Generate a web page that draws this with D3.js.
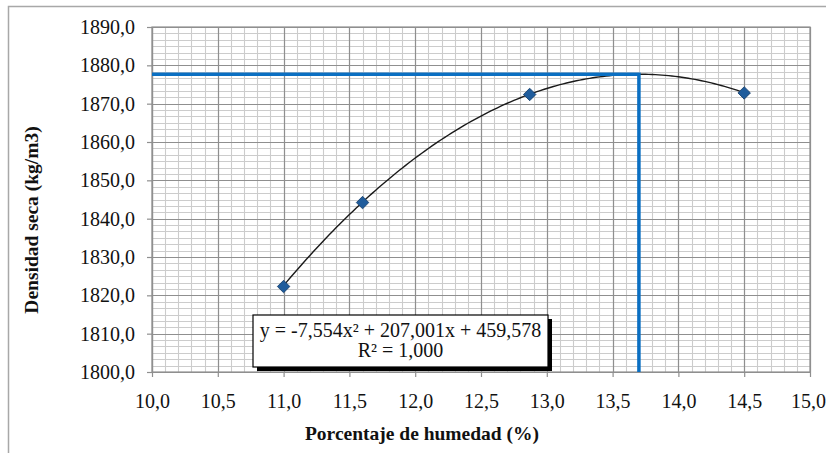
<!DOCTYPE html>
<html>
<head>
<meta charset="utf-8">
<script src="https://cdn.jsdelivr.net/npm/d3@7"></script>
<style>
  body { margin: 0; background: #fff; }
  svg { display: block; }
  text { font-family: "Liberation Serif", "Times New Roman", serif; fill: #111; }
</style>
</head>
<body>
<div id="chart"></div>
<script>
// values
const moisture = [11.0, 11.6, 12.87, 14.5];
const dryDensity = [1822.3, 1844.2, 1872.4, 1872.8];
// polynomial trendline y = a x^2 + b x + c, as printed on the chart
const trendCoef = [-7.554, 207.001, 459.578];
const optimum = { x: 13.70, y: 1877.7 };
const xTicks = [10, 10.5, 11, 11.5, 12, 12.5, 13, 13.5, 14, 14.5, 15];
const yTicks = [1800, 1810, 1820, 1830, 1840, 1850, 1860, 1870, 1880, 1890];
const eqLines = ["y = -7,554x² + 207,001x + 459,578", "R² = 1,000"];

const W = 826, H = 453;
const margin = { top: 27, right: 16, bottom: 81, left: 152 };
const width = W - margin.left - margin.right;
const height = H - margin.top - margin.bottom;

const es = d3.formatLocale({ decimal: ",", thousands: ".", grouping: [3], currency: ["", "€"] });
const fmt = es.format(".1f");

const root = d3.select('#chart').append('svg')
  .attr('width', W)
  .attr('height', H);

// outer chart frame (cropped: only left and top visible)
root.append('path')
  .attr('d', `M8.5,${H} V6.5 H${W}`)
  .attr('fill', 'none')
  .attr('stroke', '#a8a8a8')
  .attr('stroke-width', 1.5);

const svg = root.append('g')
  .attr('transform', `translate(${margin.left}, ${margin.top})`);

const x = d3.scaleLinear().domain([10, 15]).range([0, width]);
const y = d3.scaleLinear().domain([1800, 1890]).range([height, 0]);

// minor grid
const xMinor = d3.range(0, 51).map(i => 10 + i * 0.1);
const yMinor = d3.range(0, 55).map(i => 1800 + i * 10 / 6);
const grid = svg.append('g').attr('class', 'grid');
grid.selectAll('.vminor').data(xMinor).join('line')
  .attr('x1', d => Math.round(x(d)) + 0.5).attr('x2', d => Math.round(x(d)) + 0.5)
  .attr('y1', 0).attr('y2', height)
  .attr('stroke', '#cccccc').attr('stroke-width', 1.1);
grid.selectAll('.hminor').data(yMinor).join('line')
  .attr('y1', d => Math.round(y(d)) + 0.5).attr('y2', d => Math.round(y(d)) + 0.5)
  .attr('x1', 0).attr('x2', width)
  .attr('stroke', '#cccccc').attr('stroke-width', 1.1);
// major grid
grid.selectAll('.vmajor').data(xTicks).join('line')
  .attr('x1', d => Math.round(x(d)) + 0.5).attr('x2', d => Math.round(x(d)) + 0.5)
  .attr('y1', 0).attr('y2', height)
  .attr('stroke', '#8f8f8f').attr('stroke-width', 1.2);
grid.selectAll('.hmajor').data(yTicks).join('line')
  .attr('y1', d => Math.round(y(d)) + 0.5).attr('y2', d => Math.round(y(d)) + 0.5)
  .attr('x1', 0).attr('x2', width)
  .attr('stroke', '#8f8f8f').attr('stroke-width', 1.2);

// axes
const xAxis = svg.append('g')
  .attr('transform', `translate(0, ${height})`)
  .call(d3.axisBottom(x).tickValues(xTicks).tickFormat(fmt).tickSizeOuter(0).tickSizeInner(5).tickPadding(17));
const yAxis = svg.append('g')
  .call(d3.axisLeft(y).tickValues(yTicks).tickFormat(fmt).tickSizeOuter(0).tickSizeInner(5).tickPadding(12));
[xAxis, yAxis].forEach(a => {
  a.select('.domain').attr('stroke', '#8f8f8f').attr('stroke-width', 1.2);
  a.selectAll('.tick line').attr('stroke', '#8f8f8f').attr('stroke-width', 1.2);
  a.selectAll('.tick text')
    .attr('font-family', '"Liberation Serif", serif')
    .attr('font-size', '20px')
    .attr('fill', '#111');
});
// last x label sits at the window edge: pull it in a little
xAxis.selectAll('.tick text').filter(d => d === 15).attr('dx', -2);
svg.append('rect')
  .attr('width', width).attr('height', height)
  .attr('fill', 'none').attr('stroke', '#8f8f8f').attr('stroke-width', 1.2);

// trendline from the printed equation, over the data range
const [a, b, c] = trendCoef;
const trend = d3.range(0, 141).map(i => {
  const xv = moisture[0] + i * (moisture[moisture.length - 1] - moisture[0]) / 140;
  return [xv, a * xv * xv + b * xv + c];
});
svg.append('path')
  .datum(trend)
  .attr('fill', 'none')
  .attr('stroke', '#1a1a1a')
  .attr('stroke-width', 1.4)
  .attr('d', d3.line().x(d => x(d[0])).y(d => y(d[1])));

// optimum guide line
svg.append('path')
  .attr('d', `M${x(10)},${y(optimum.y)} H${x(optimum.x)} V${y(1800)}`)
  .attr('fill', 'none')
  .attr('stroke', '#0a6fc2')
  .attr('stroke-width', 3.5);

// data markers
svg.selectAll('.pt')
  .data(moisture.map((m, i) => [m, dryDensity[i]]))
  .join('path')
  .attr('class', 'pt')
  .attr('transform', d => `translate(${x(d[0])}, ${y(d[1])}) rotate(45)`)
  .attr('d', d3.symbol(d3.symbolSquare, 78))
  .attr('fill', '#1f5c9c')
  .attr('stroke', '#173f6a')
  .attr('stroke-width', 0.8);

// equation label
const box = { x: 253 - margin.left, y: 315 - margin.top, w: 295, h: 52 };
svg.append('rect')
  .attr('x', box.x + 4).attr('y', box.y + 4)
  .attr('width', box.w).attr('height', box.h)
  .attr('fill', '#000');
svg.append('rect')
  .attr('x', box.x).attr('y', box.y)
  .attr('width', box.w).attr('height', box.h)
  .attr('fill', '#fff').attr('stroke', '#000').attr('stroke-width', 1.2);
svg.selectAll('.eq')
  .data(eqLines)
  .join('text')
  .attr('class', 'eq')
  .attr('x', box.x + box.w / 2)
  .attr('y', (d, i) => box.y + 22 + i * 20)
  .attr('text-anchor', 'middle')
  .attr('font-size', '20px')
  .text(d => d);

// axis titles
svg.append('text')
  .attr('x', 422 - margin.left)
  .attr('y', 440 - margin.top)
  .attr('text-anchor', 'middle')
  .attr('font-size', '19.5px')
  .attr('font-weight', 'bold')
  .text('Porcentaje de humedad (%)');
svg.append('text')
  .attr('transform', `translate(${38 - margin.left}, ${220 - margin.top}) rotate(-90)`)
  .attr('text-anchor', 'middle')
  .attr('font-size', '19.5px')
  .attr('font-weight', 'bold')
  .text('Densidad seca (kg/m3)');
</script>
</body>
</html>
